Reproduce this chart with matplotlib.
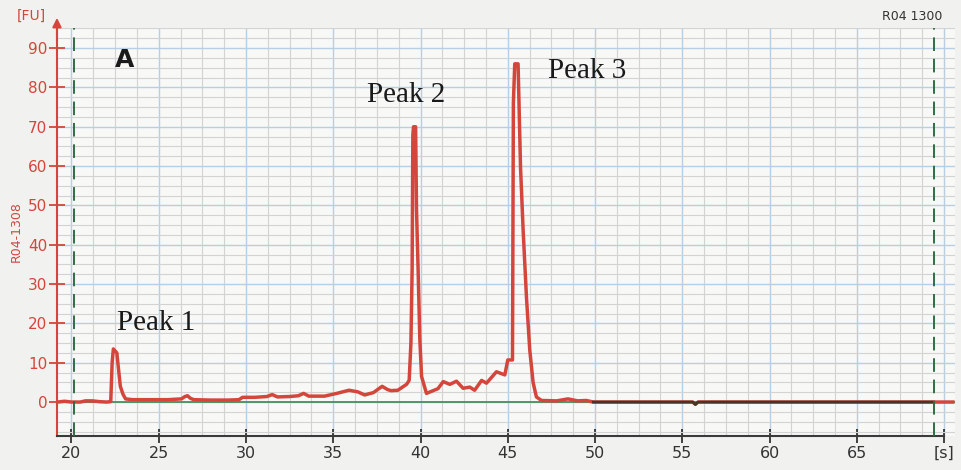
import matplotlib
matplotlib.use("Agg")
import matplotlib.pyplot as plt
from matplotlib.ticker import MultipleLocator, FixedLocator
import numpy as np

# ---- data ----
time_s = [19.2, 19.6, 20.0, 20.5, 20.8, 21.2, 21.6, 22.0, 22.25, 22.33, 22.4, 22.5, 22.6,
          22.68, 22.8, 22.95, 23.1, 23.5, 24.5, 25.5, 26.3, 26.5, 26.65, 26.8, 27.0, 28.0,
          29.0, 29.6, 29.8, 30.5, 31.2, 31.5, 31.8, 32.5, 33.0, 33.3, 33.6, 34.5, 35.2,
          35.9, 36.4, 36.8, 37.3, 37.8, 38.1, 38.3, 38.7, 39.0, 39.2, 39.35, 39.45, 39.52,
          39.56, 39.6, 39.72, 39.77, 39.86, 39.96, 40.06, 40.34, 41.0, 41.3, 41.68, 42.06,
          42.44, 42.82, 43.1, 43.5, 43.78, 44.35, 44.83, 45.0, 45.27, 45.32, 45.4, 45.59,
          45.73, 45.88, 46.07, 46.26, 46.45, 46.64, 46.93, 47.8, 48.45, 49.0, 49.5, 49.9,
          55.6, 55.75, 55.9, 70.5]
signal_fu = [0.0, 0.2, 0.0, 0.0, 0.3, 0.3, 0.1, 0.0, 0.1, 10.0, 13.5, 13.0, 12.5,
             9.0, 4.0, 2.0, 0.8, 0.6, 0.6, 0.6, 0.8, 1.4, 1.6, 1.0, 0.6, 0.5,
             0.5, 0.6, 1.2, 1.2, 1.4, 1.9, 1.3, 1.4, 1.6, 2.2, 1.5, 1.5, 2.2,
             3.0, 2.6, 1.8, 2.4, 4.0, 3.2, 2.9, 3.0, 3.9, 4.5, 5.5, 15.0, 34.0,
             68.0, 70.0, 70.0, 49.0, 34.0, 16.0, 6.5, 2.2, 3.4, 5.2, 4.5, 5.3,
             3.5, 3.8, 3.0, 5.5, 4.8, 7.7, 6.9, 10.7, 10.7, 76.0, 86.0, 86.0,
             59.7, 43.7, 26.7, 13.2, 5.0, 1.3, 0.4, 0.3, 0.8, 0.3, 0.4, 0.0,
             0.0, -0.6, 0.0, 0.0]

x_ticks = [20, 25, 30, 35, 40, 45, 50, 55, 60, 65, 70]
x_tick_labels = ["20", "25", "30", "35", "40", "45", "50", "55", "60", "65", "[s]"]
y_ticks = [0, 10, 20, 30, 40, 50, 60, 70, 80, 90]
marker_times = [20.15, 69.4]
peak_labels = ["Peak 1", "Peak 2", "Peak 3"]
peak_label_pos = [(24.85, 16.8), (39.15, 74.8), (49.55, 81.0)]

RED = "#d4463c"
GREEN = "#2f6e45"

fig = plt.figure(figsize=(9.61, 4.70), dpi=100, facecolor="#f1f1ef")
ax = fig.add_axes([0.0593, 0.0723, 0.934, 0.868])
ax.set_facecolor("#f8f8f6")

ax.set_xlim(19.17, 70.6)
ax.set_ylim(-8.64, 95.1)

# grid
ax.xaxis.set_major_locator(FixedLocator(x_ticks))
ax.xaxis.set_minor_locator(MultipleLocator(1.25))
ax.yaxis.set_major_locator(FixedLocator(y_ticks))
ax.yaxis.set_minor_locator(MultipleLocator(2.5))
ax.grid(which="minor", color="#d3d3d3", lw=0.8, zorder=0)
ax.grid(which="major", color="#b6cfe4", lw=1.0, zorder=0)
ax.set_axisbelow(True)

# baseline
ax.axhline(0, color="#3e8a4e", lw=1.2, zorder=2)

# trace
t = np.array(time_s)
s = np.array(signal_fu)
ax.plot(t, s, color=RED, lw=2.5, zorder=3)
tail = t >= 49.9
ax.plot(np.clip(t[tail], None, 69.4), s[tail], color="#4a3428", lw=2.0, zorder=4)

# dashed markers
for mt in marker_times:
    ax.axvline(mt, color=GREEN, lw=1.4, ls=(0, (7, 4)), zorder=5)

# spines
for sp in ["top", "right"]:
    ax.spines[sp].set_visible(False)
ax.spines["left"].set_color(RED)
ax.spines["left"].set_linewidth(1.5)
ax.spines["bottom"].set_color("#3a3a3a")
ax.spines["bottom"].set_linewidth(1.5)
ax.spines["bottom"].set_bounds(19.17, 70)
ax.annotate("", xy=(0, 1.025), xytext=(0, 0.97), xycoords="axes fraction",
            arrowprops=dict(arrowstyle="-|>", color=RED, lw=1.5, mutation_scale=13,
                            shrinkA=0, shrinkB=0), annotation_clip=False)

ax.set_xticks(x_ticks)
ax.set_xticklabels(x_tick_labels)
ax.set_yticks(y_ticks)
ax.set_yticklabels([str(v) for v in y_ticks])
ax.tick_params(axis="y", which="major", colors=RED, direction="inout", length=12,
               width=1.3, labelsize=11, pad=1)
ax.tick_params(axis="x", which="major", colors="#333333", direction="inout", length=10,
               width=1.3, labelsize=11.5, pad=2)
ax.tick_params(which="minor", length=0)

# texts
for lab, (px, py) in zip(peak_labels, peak_label_pos):
    ax.text(px, py, lab, family="Liberation Serif", fontsize=21, color="#1a1a1a",
            ha="center", va="bottom", zorder=6)
fig.text(125 / 961, 1 - 60 / 470, "A", fontsize=18, fontweight="bold", color="#1a1a1a",
         ha="center", va="center")
fig.text(16 / 961, 1 - 232 / 470, "R04-1308", rotation=90, color=RED, fontsize=9,
         ha="center", va="center")
fig.text(31 / 961, 1 - 16 / 470, "[FU]", color=RED, fontsize=10, ha="center", va="center")
fig.text(912 / 961, 1 - 16 / 470, "R04 1300", color="#333333", fontsize=9,
         ha="center", va="center")

fig.savefig("out.png", dpi=100, facecolor=fig.get_facecolor())
